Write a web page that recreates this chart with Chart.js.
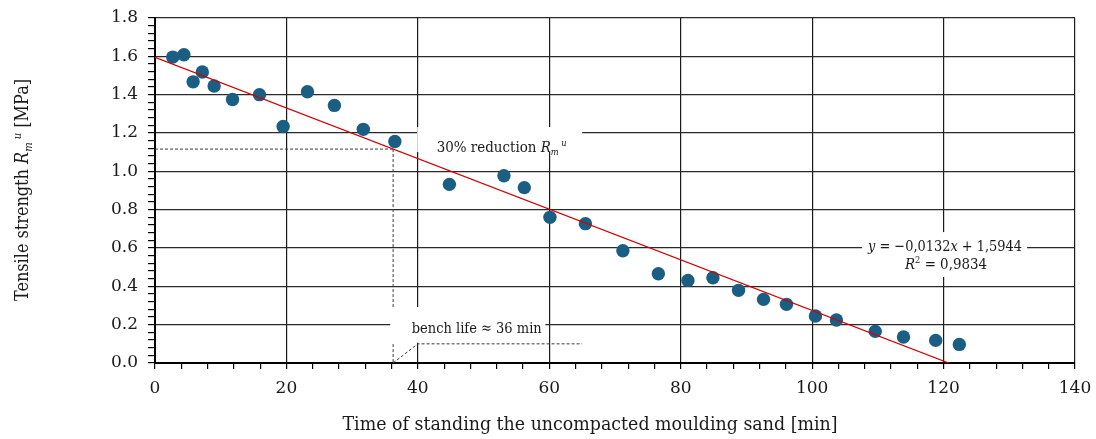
<!DOCTYPE html>
<html>
<head>
<meta charset="utf-8">
<script src="https://cdn.jsdelivr.net/npm/chart.js@4/dist/chart.umd.min.js"></script>
<style>
  html, body { margin: 0; padding: 0; background: #ffffff; }
  #wrap { width: 1096px; height: 439px; }
</style>
</head>
<body>
<div id="wrap"><canvas id="c" width="1096" height="439"></canvas></div>
<script>
// ---- data ----
const timeMin = [2.7, 4.4, 5.8, 7.2, 9.0, 11.8, 15.9, 19.5, 23.2, 27.3, 31.7, 36.5,
                 44.8, 53.1, 56.2, 60.1, 65.5, 71.2, 76.6, 81.1, 84.9, 88.8, 92.6,
                 96.1, 100.5, 103.7, 109.6, 113.9, 118.8, 122.4];
const strengthMPa = [1.596, 1.608, 1.467, 1.518, 1.445, 1.375, 1.400, 1.234, 1.415, 1.344, 1.219, 1.156,
                     0.932, 0.977, 0.915, 0.760, 0.727, 0.586, 0.466, 0.431, 0.445, 0.379, 0.332,
                     0.306, 0.245, 0.224, 0.165, 0.136, 0.118, 0.097];
const trendSlope = -0.0132;
const trendIntercept = 1.5944;
const trendR2 = 0.9834;
const reductionShare = 0.30;
const xTickLabels = ['0', '20', '40', '60', '80', '100', '120', '140'];
const yTickLabels = ['0.0', '0.2', '0.4', '0.6', '0.8', '1.0', '1.2', '1.4', '1.6', '1.8'];

// derived
const reductionLevel = (1 - reductionShare) * trendIntercept;
const benchLife = (trendIntercept - reductionLevel) / (-trendSlope);
const trendEnd = trendIntercept / (-trendSlope);

const FAMILY = '"DejaVu Serif", "Liberation Serif", serif';
const TXT = '#1a1a1a';

function segFont(s, size) {
  const fs = (s.sub || s.sup) ? size * 0.62 : size;
  return (s.italic ? 'italic ' : '') + fs.toFixed(2) + 'px ' + FAMILY;
}
function richWidth(ctx, segs, size) {
  let w = 0;
  for (const s of segs) { ctx.font = segFont(s, size); w += ctx.measureText(s.t).width; }
  return w;
}
// draw rich text of given font size, horizontally condensed to fit a target width
function drawRich(ctx, segs, cx, cy, size, targetW) {
  const natural = richWidth(ctx, segs, size);
  let sx = targetW ? targetW / natural : 1;
  sx = Math.max(0.8, Math.min(1.0, sx));
  ctx.save();
  ctx.translate(cx, cy);
  ctx.scale(sx, 1);
  let x = -natural / 2;
  const base = size * 0.36;
  ctx.textBaseline = 'alphabetic';
  ctx.textAlign = 'left';
  ctx.fillStyle = TXT;
  for (const s of segs) {
    ctx.font = segFont(s, size);
    let yy = base;
    if (s.sub) yy += size * 0.22;
    if (s.sup) yy -= size * 0.42;
    ctx.fillText(s.t, x, yy);
    x += ctx.measureText(s.t).width;
  }
  ctx.restore();
}

const isMult = (v, step) => Math.abs(v / step - Math.round(v / step)) < 1e-6;

const annotations = {
  id: 'annotations',
  beforeDatasetsDraw(chart) {
    const ctx = chart.ctx, xs = chart.scales.x, ys = chart.scales.y;
    const X = v => xs.getPixelForValue(v), Y = v => ys.getPixelForValue(v);
    ctx.save();
    // dashed guide lines
    ctx.strokeStyle = '#3c3c3c';
    ctx.lineWidth = 1;
    ctx.setLineDash([3, 2]);
    ctx.beginPath();
    ctx.moveTo(X(0), Y(reductionLevel)); ctx.lineTo(X(benchLife), Y(reductionLevel));
    ctx.moveTo(X(benchLife), Y(reductionLevel)); ctx.lineTo(X(benchLife), Y(0));
    ctx.moveTo(X(benchLife), Y(0)); ctx.lineTo(X(40), Y(0.1)); ctx.lineTo(X(65), Y(0.1));
    ctx.stroke();
    ctx.setLineDash([]);
    // label backgrounds
    ctx.fillStyle = '#ffffff';
    const box = (x0, x1, y0, y1) => ctx.fillRect(X(x0), Y(y0), X(x1) - X(x0), Y(y1) - Y(y0));
    box(39.9, 65.0, 1.231, 1.101);
    box(35.8, 59.4, 0.292, 0.106);
    box(107.6, 132.7, 0.683, 0.449);
    // label texts
    const redSegs = [{t: '30% reduction '}, {t: 'R', italic: true}, {t: 'm', italic: true, sub: true}, {t: ' u', italic: true, sup: true}];
    drawRich(ctx, redSegs, 501.7, 146.5, 15.5, 130);
    const benchSegs = [{t: 'bench life \u2248 ' + Math.round(benchLife) + ' min'}];
    drawRich(ctx, benchSegs, 476.7, 327.5, 15.5, 130);
    const eq1 = [{t: 'y', italic: true}, {t: ' = \u2212' + Math.abs(trendSlope).toFixed(4).replace('.', ',')}, {t: 'x', italic: true}, {t: ' + ' + trendIntercept.toFixed(4).replace('.', ',')}];
    drawRich(ctx, eq1, 945, 245, 15.5, 154);
    const eq2 = [{t: 'R', italic: true}, {t: '2', sup: true}, {t: ' = ' + trendR2.toFixed(4).replace('.', ',')}];
    drawRich(ctx, eq2, 946, 263.5, 15.5, 82);
    ctx.restore();
  },
  afterDraw(chart) {
    const ctx = chart.ctx;
    ctx.save();
    const xt = [{t: 'Time of standing the uncompacted moulding sand [min]'}];
    drawRich(ctx, xt, 590, 423.5, 18, 495);
    ctx.translate(22, 190);
    ctx.rotate(-Math.PI / 2);
    const yt = [{t: 'Tensile strength '}, {t: 'R', italic: true}, {t: 'm', italic: true, sub: true}, {t: ' u', italic: true, sup: true}, {t: ' [MPa]'}];
    drawRich(ctx, yt, 0, 0, 18, 222);
    ctx.restore();
  }
};

const points = timeMin.map((t, i) => ({x: t, y: strengthMPa[i]}));
const trend = [{x: 0, y: trendIntercept}, {x: trendEnd, y: trendIntercept + trendSlope * trendEnd}];

new Chart(document.getElementById('c'), {
  type: 'scatter',
  data: {
    datasets: [
      { type: 'line', data: trend, borderColor: '#d40000', borderWidth: 1.3, pointRadius: 0, fill: false, tension: 0 },
      { data: points, backgroundColor: '#1a5e84', borderWidth: 0, pointRadius: 6.7, pointHoverRadius: 6.7 }
    ]
  },
  options: {
    responsive: false,
    animation: false,
    events: [],
    layout: { padding: { top: 18, right: 21, left: 0, bottom: 0 } },
    plugins: { legend: { display: false }, tooltip: { enabled: false }, title: { display: false } },
    scales: {
      x: {
        type: 'linear', min: 0, max: 140,
        afterFit(s) { s.height = 76; s.paddingLeft = 0; s.paddingRight = 0; },
        ticks: {
          stepSize: 4, autoSkip: false, maxRotation: 0, padding: 9, color: TXT,
          font: { family: FAMILY, size: 17 },
          callback: v => isMult(v, 20) ? xTickLabels[Math.round(v / 20)] : ''
        },
        grid: {
          color: c => (c.tick && isMult(c.tick.value, 20)) ? '#1a1a1a' : 'rgba(0,0,0,0)',
          tickColor: '#000', tickLength: 6, lineWidth: 1.2, drawTicks: true
        },
        border: { display: true, color: '#000', width: 2 }
      },
      y: {
        type: 'linear', min: 0, max: 1.8,
        afterFit(s) { s.width = 155; s.paddingTop = 0; s.paddingBottom = 0; },
        ticks: {
          stepSize: 0.04, autoSkip: false, padding: 10, color: TXT,
          font: { family: FAMILY, size: 17 },
          callback: v => isMult(v, 0.2) ? yTickLabels[Math.round(v / 0.2)] : ''
        },
        grid: {
          color: c => (c.tick && isMult(c.tick.value, 0.2)) ? '#2a2a2a' : 'rgba(0,0,0,0)',
          tickColor: '#000', tickLength: 7, lineWidth: 1.2, drawTicks: true
        },
        border: { display: true, color: '#000', width: 2 }
      }
    }
  },
  plugins: [annotations]
});
</script>
</body>
</html>
